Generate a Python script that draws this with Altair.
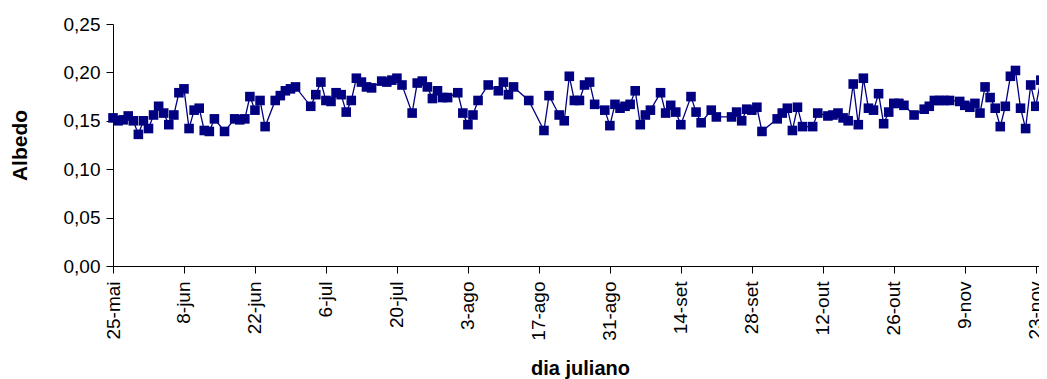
import json
import altair as alt
import pandas as pd

# day offset from 25-mai
days = [0,1,2,3,4,5,6,7,8,9,10,11,12,13,14,15,16,17,18,19,20,22,24,25,26,27,28,29,30,
        32,33,34,35,36,39,40,41,42,43,44,45,46,47,48,49,50,51,53,54,55,56,57,59,60,61,
        62,63,64,65,66,68,69,70,71,72,74,76,77,78,79,82,85,86,88,89,90,91,92,93,94,95,
        97,98,99,100,101,102,103,104,105,106,108,109,110,111,112,114,115,116,118,119,
        122,123,124,125,126,127,128,131,132,133,134,135,136,138,139,141,142,143,144,
        145,146,147,148,149,150,151,152,153,154,155,156,158,160,161,162,163,164,165,
        167,168,169,170,171,172,173,174,175,176,177,178,179,180,181,182,183]
albedo = [0.153,0.150,0.151,0.155,0.150,0.136,0.150,0.142,0.156,0.165,0.158,0.146,0.156,
          0.179,0.183,0.142,0.161,0.163,0.140,0.139,0.152,0.139,0.152,0.151,0.152,0.175,
          0.161,0.171,0.144,0.171,0.176,0.181,0.183,0.185,0.165,0.177,0.190,0.171,0.170,
          0.179,0.177,0.159,0.171,0.194,0.190,0.185,0.184,0.191,0.190,0.192,0.194,0.187,
          0.158,0.189,0.191,0.185,0.173,0.181,0.174,0.174,0.179,0.158,0.146,0.156,0.171,
          0.187,0.181,0.190,0.177,0.185,0.171,0.140,0.176,0.156,0.150,0.196,0.171,0.171,
          0.187,0.190,0.167,0.161,0.145,0.167,0.163,0.165,0.167,0.181,0.146,0.156,0.161,
          0.179,0.158,0.166,0.159,0.146,0.175,0.159,0.148,0.161,0.154,0.154,0.159,0.150,
          0.162,0.161,0.164,0.139,0.152,0.158,0.163,0.140,0.164,0.144,0.144,0.158,0.155,
          0.156,0.158,0.153,0.150,0.188,0.146,0.194,0.163,0.161,0.178,0.147,0.159,0.168,
          0.168,0.166,0.156,0.162,0.165,0.171,0.171,0.171,0.171,0.170,0.166,0.164,0.168,
          0.158,0.185,0.174,0.163,0.144,0.165,0.196,0.202,0.163,0.142,0.187,0.165,0.192]
tick_labels = ["25-mai","8-jun","22-jun","6-jul","20-jul","3-ago","17-ago","31-ago",
               "14-set","28-set","12-out","26-out","9-nov","23-nov"]

df = pd.DataFrame({"dia": days, "albedo": albedo})
tick_vals = [14 * i for i in range(len(tick_labels))]

FONT = "Liberation Sans"
NAVY = "#000080"
W = 926

x = alt.X("dia:Q",
          scale=alt.Scale(domain=[0, 182.64], nice=False, zero=False),
          axis=alt.Axis(values=tick_vals,
                        labelExpr=json.dumps(tick_labels) + "[round(datum.value/14)]",
                        labelAngle=270, labelAlign="right", labelBaseline="middle",
                        labelPadding=8, tickSize=7, grid=False,
                        title="dia juliano", titleFontWeight="bold", titleFontSize=20,
                        titleX=467, titleY=102, titleBaseline="middle",
                        titleAlign="center"))
y = alt.Y("albedo:Q",
          scale=alt.Scale(domain=[0, 0.25], nice=False),
          axis=alt.Axis(values=[0, 0.05, 0.10, 0.15, 0.20, 0.25],
                        labelExpr="replace(format(datum.value, '.2f'), '.', ',')",
                        tickSize=7, labelPadding=6, grid=False,
                        title="Albedo", titleFontWeight="bold", titleFontSize=21,
                        titleAngle=270, titleX=-93, titleY=121,
                        titleBaseline="middle", titleAlign="center"))

base = alt.Chart(df)
line = base.mark_line(color=NAVY, strokeWidth=1.3).encode(x=x, y=y)
pts = base.mark_point(shape="square", filled=True, size=92, color=NAVY, opacity=1).encode(x=x, y=y)

chart = (line + pts).properties(
    width=W, height=242,
    autosize=alt.AutoSizeParams(type="none"),
    padding={"left": 105, "top": 16, "right": 0, "bottom": 113},
).configure_view(stroke=None).configure_axis(
    domainColor="#000000", tickColor="#000000", labelColor="#000000",
    titleColor="#000000", labelFont=FONT, titleFont=FONT, labelFontSize=19,
    domainWidth=1, tickWidth=1, labelOverlap=False, labelFlush=False
)

chart.save("out.html", embed_options={"renderer": "svg", "actions": False})
